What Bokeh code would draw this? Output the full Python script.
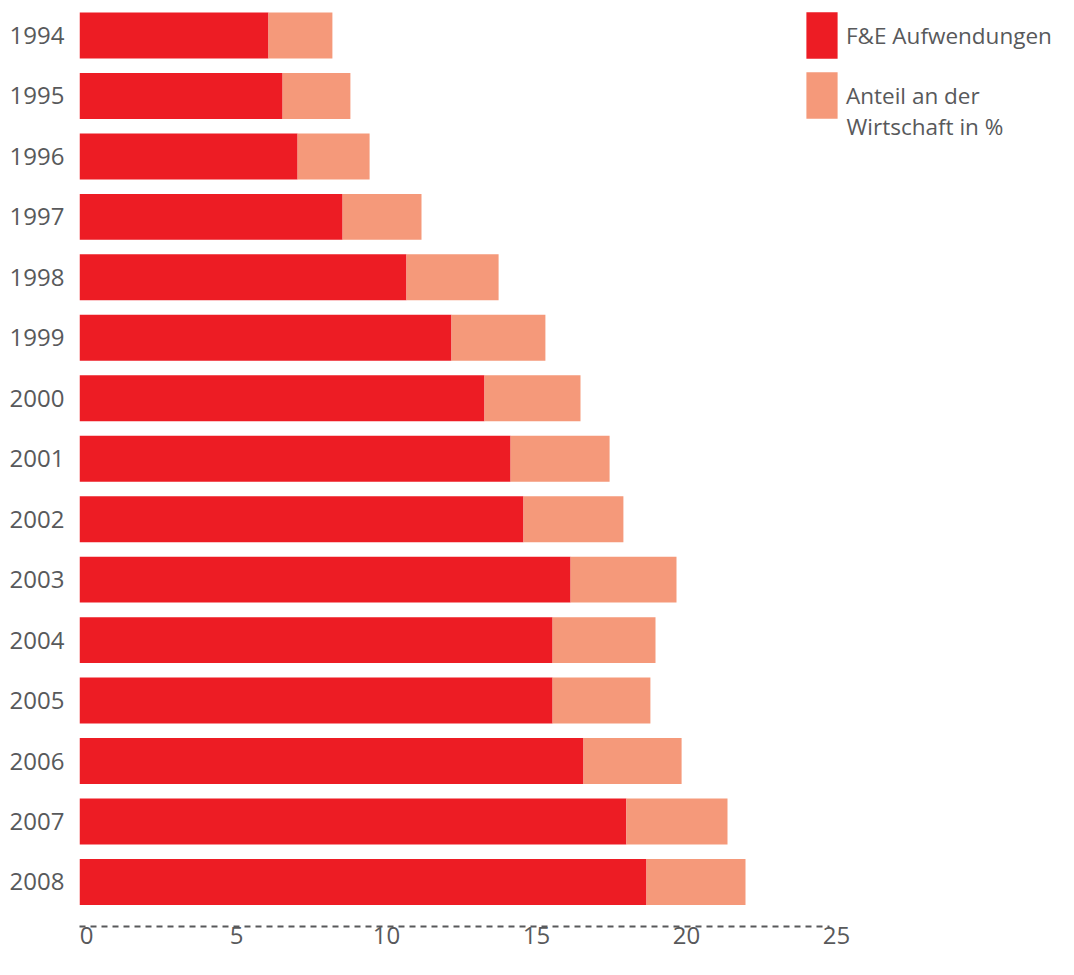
from bokeh.plotting import figure
from bokeh.models import (Range1d, LinearAxis, FixedTicker, Legend, LegendItem,
                          ColumnDataSource, Label)
from bokeh.embed import file_html
from bokeh.resources import INLINE

# ---- data ----
years = ["1994", "1995", "1996", "1997", "1998", "1999", "2000", "2001",
         "2002", "2003", "2004", "2005", "2006", "2007", "2008"]
fue_aufwendungen = [6.30, 6.77, 7.27, 8.77, 10.90, 12.40, 13.50, 14.37,
                    14.80, 16.37, 15.77, 15.77, 16.80, 18.23, 18.90]
anteil_wirtschaft = [2.13, 2.26, 2.40, 2.63, 3.07, 3.13, 3.20, 3.30,
                     3.33, 3.53, 3.43, 3.26, 3.27, 3.37, 3.30]
x_ticks = [0, 5, 10, 15, 20, 25]
x_tick_labels = ["0", "5", "10", "15", "20", "25"]
legend_label_1 = "F&E Aufwendungen"
legend_label_2 = ["Anteil an der", "Wirtschaft in %"]

FONT = "Open Sans"
TEXT = "#58595b"
RED = "#ed1c24"
SALMON = "#f5997a"
AXIS = "#58595b"

pos = list(range(len(years)))
total = [a + b for a, b in zip(fue_aufwendungen, anteil_wirtschaft)]
src = ColumnDataSource(dict(y=pos, zero=[0] * len(pos),
                            fue=fue_aufwendungen, total=total))

W, H = 1058, 959
LEFT = 79
FRAME_H = 926
PX_PER_X = 30.0
PX_PER_ROW = 60.46
top_v = -35 / PX_PER_ROW
bottom_v = top_v + FRAME_H / PX_PER_ROW
x_end = (W - LEFT) / PX_PER_X

p = figure(width=W, height=H, output_backend="svg", toolbar_location=None,
           x_range=Range1d(0, x_end), y_range=Range1d(bottom_v, top_v),
           min_border_left=LEFT, min_border_right=0, min_border_top=0,
           min_border_bottom=H - FRAME_H,
           x_axis_type=None, y_axis_type=None)
p.outline_line_color = None
p.background_fill_color = "white"

r1 = p.hbar(y="y", left="zero", right="fue", height=0.76, source=src,
            fill_color=RED, line_color=None)
r2 = p.hbar(y="y", left="fue", right="total", height=0.76, source=src,
            fill_color=SALMON, line_color=None)

# dashed baseline (axis line only)
base = LinearAxis(bounds=(0, 25), ticker=FixedTicker(ticks=[]),
                  axis_line_color=AXIS, axis_line_width=2, axis_line_dash="6 5",
                  major_tick_line_color=None, minor_tick_line_color=None,
                  major_tick_out=0, major_tick_in=0, major_label_standoff=0)
p.add_layout(base, "below")

# tick labels, sitting slightly right of the tick as in the reference
shift = 7 / PX_PER_X
p.extra_x_ranges = {"lab": Range1d(-shift, x_end - shift)}
lab = LinearAxis(x_range_name="lab", ticker=FixedTicker(ticks=x_ticks),
                 major_label_overrides={t: s for t, s in zip(x_ticks, x_tick_labels)},
                 axis_line_color=None, major_tick_line_color=None,
                 minor_tick_line_color=None, major_tick_out=0, major_tick_in=0,
                 major_label_standoff=0, major_label_text_font=FONT,
                 major_label_text_font_size="24px", major_label_text_color=TEXT)
p.add_layout(lab, "below")

yax = LinearAxis(ticker=FixedTicker(ticks=pos),
                 major_label_overrides={i: y for i, y in zip(pos, years)},
                 axis_line_color=None, major_tick_line_color=None,
                 minor_tick_line_color=None, major_tick_out=0, major_tick_in=0,
                 major_label_standoff=15, major_label_text_font=FONT,
                 major_label_text_font_size="24px", major_label_text_color=TEXT)
p.add_layout(yax, "left")

legend = Legend(items=[LegendItem(label=legend_label_1, renderers=[r1]),
                       LegendItem(label=legend_label_2[0], renderers=[r2])],
                location=(723, 802), glyph_width=39, glyph_height=58,
                label_standoff=5, spacing=2, padding=0, margin=0,
                border_line_color=None, background_fill_alpha=0,
                label_text_font=FONT, label_text_font_size="22.5px",
                label_text_color=TEXT)
p.add_layout(legend)

# second line of the second legend entry
p.add_layout(Label(x=767, y=FRAME_H - 126, x_units="screen", y_units="screen",
                   text=legend_label_2[1], text_font=FONT, text_font_size="22.5px",
                   text_color=TEXT, text_baseline="middle", text_align="left"))

open("out.html", "w").write(file_html(p, INLINE))
